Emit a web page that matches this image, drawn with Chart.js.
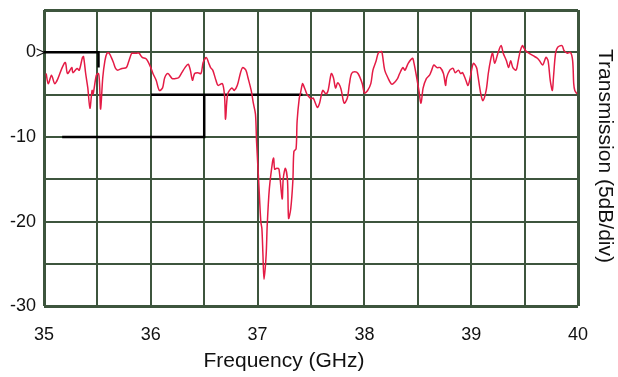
<!DOCTYPE html>
<html lang="en">
<head>
  <meta charset="UTF-8" />
  <title>Transmission vs Frequency</title>
  <script src="https://cdn.jsdelivr.net/npm/chart.js"></script>
  <style>
    body { margin: 0; background: #fff; }
    #wrap { width: 618px; height: 377px; }
  </style>
</head>
<body>
  <div id="wrap"><canvas id="myChart"></canvas></div>
  <script>
    // measured trace, frequency (GHz) and transmission (dB)
    const freqs = [
      35.02, 35.04, 35.07, 35.10, 35.13, 35.17, 35.20, 35.22, 35.26, 35.27,
      35.31, 35.33, 35.36, 35.37, 35.39, 35.41, 35.43, 35.45, 35.46, 35.49,
      35.51, 35.52, 35.53, 35.55, 35.57, 35.59, 35.61, 35.63, 35.65, 35.67,
      35.69, 35.73, 35.77, 35.79, 35.82, 35.83, 35.87, 35.89, 35.92, 35.95,
      35.97, 36.00, 36.02, 36.05, 36.08, 36.11, 36.13, 36.16, 36.20, 36.23,
      36.26, 36.29, 36.32, 36.35, 36.37, 36.39, 36.41, 36.44, 36.47, 36.49,
      36.52, 36.54, 36.56, 36.58, 36.61, 36.63, 36.67, 36.69, 36.70, 36.72,
      36.76, 36.78, 36.81, 36.84, 36.86, 36.89, 36.91, 36.94, 36.96, 36.98,
      36.99, 37.01, 37.03, 37.04, 37.05, 37.06, 37.08, 37.09, 37.11, 37.14,
      37.15, 37.16, 37.18, 37.20, 37.23, 37.24, 37.26, 37.28, 37.29, 37.31,
      37.33, 37.34, 37.36, 37.37, 37.39, 37.40, 37.42, 37.43, 37.46, 37.47,
      37.50, 37.52, 37.56, 37.58, 37.61, 37.64, 37.66, 37.69, 37.71, 37.73,
      37.75, 37.78, 37.81, 37.84, 37.86, 37.88, 37.91, 37.94, 37.98, 38.00,
      38.03, 38.06, 38.08, 38.11, 38.13, 38.16, 38.17, 38.19, 38.22, 38.25,
      38.27, 38.31, 38.33, 38.36, 38.38, 38.41, 38.45, 38.46, 38.49, 38.51,
      38.53, 38.55, 38.58, 38.61, 38.63, 38.65, 38.68, 38.71, 38.74, 38.76,
      38.77, 38.80, 38.83, 38.85, 38.88, 38.90, 38.92, 38.95, 38.97, 38.99,
      39.02, 39.05, 39.06, 39.09, 39.11, 39.14, 39.16, 39.18, 39.20, 39.22,
      39.25, 39.28, 39.30, 39.33, 39.35, 39.37, 39.39, 39.42, 39.44, 39.46,
      39.48, 39.49, 39.51, 39.54, 39.58, 39.62, 39.64, 39.67, 39.70, 39.72,
      39.74, 39.76, 39.77, 39.79, 39.81, 39.85, 39.87, 39.90, 39.93, 39.95,
      39.96, 39.97, 39.99
    ];
    const transmission = [
      -2.5, -3.7, -2.7, -3.7, -3.1, -1.8, -1.2, -2.5, -1.8, -2.4,
      -1.9, -2.1, -0.6, -0.5, -2.5, -4.2, -6.6, -4.5, -4.9, -2.7,
      -2.5, -3.7, -6.7, -3.0, -1.0, -0.1, -0.1, -0.6, -1.2, -1.9,
      -2.1, -1.9, -1.8, -1.2, -0.1, -0.1, -0.1, -0.1, -0.6, -0.7,
      -1.0, -1.8, -2.5, -3.3, -4.5, -4.2, -3.0, -2.5, -3.1, -3.1,
      -3.0, -2.4, -1.8, -1.4, -2.1, -3.3, -2.5, -2.4, -2.5, -1.2,
      -0.6, -1.2, -1.8, -2.1, -3.3, -3.9, -3.7, -5.1, -7.9, -4.9,
      -4.2, -4.5, -3.9, -2.4, -1.8, -2.1, -3.0, -4.5, -6.0, -7.3,
      -10.5, -15.2, -20.0, -20.8, -23.9, -26.8, -23.9, -20.4, -16.1, -12.9,
      -12.5, -13.8, -13.7, -13.8, -17.3, -14.9, -13.7, -15.2, -19.6, -18.5,
      -15.2, -11.7, -11.4, -8.1, -5.4, -4.9, -3.7, -3.9, -4.9, -5.1,
      -5.5, -5.4, -6.5, -6.0, -4.5, -4.9, -4.5, -2.5, -3.0, -4.2,
      -3.6, -4.3, -6.0, -5.4, -3.7, -2.5, -2.3, -2.5, -3.7, -4.8,
      -4.5, -3.7, -2.1, -1.0, -0.1, 0.1, -0.4, -2.1, -3.0, -3.7,
      -3.7, -3.1, -2.5, -1.8, -2.1, -1.3, -0.7, -1.0, -3.0, -4.5,
      -6.0, -4.2, -3.1, -2.7, -2.1, -1.5, -1.8, -1.8, -2.5, -3.9,
      -3.0, -2.1, -1.9, -2.4, -2.1, -2.5, -2.4, -3.3, -3.9, -3.0,
      -1.3, -1.8, -2.5, -4.9, -5.7, -4.5, -2.5, -1.0, -0.1, -1.3,
      -0.1, 0.8, -0.1, -1.0, -1.8, -1.0, -1.8, -2.1, -1.0, 0.2,
      0.8, 0.6, 0.2, -0.1, -0.4, -0.7, -1.0, -1.5, -0.6, -1.0,
      -3.3, -4.5, -3.0, -0.1, 0.6, 0.8, 0.2, -0.1, 0.0, -1.0,
      -3.7, -4.5, -4.9
    ];

    // black limit mask, null breaks the line
    const maskX = [35.0, 35.51, 35.51, null, 35.17, 36.5, 36.5, null, 36.0, 37.42];
    const maskY = [0, 0, -1.8, null, -10, -10, -5, null, -5, -5];

    const xLabels = [35, 36, 37, 38, 39, 40];
    const yLabels = [-30, -20, -10, 0];

    const trace = freqs.map((f, i) => ({ x: f, y: transmission[i] }));
    const mask = maskX.map((f, i) => ({ x: f === null ? 35 : f, y: maskY[i] }));

    const edgeWidth = (c) => (c.index === 0 || c.index === c.chart.scales[c.scale.id].ticks.length - 1) ? 3 : 2;
    const fontFamily = '"Liberation Sans", Arial, sans-serif';

    const extras = {
      id: 'extras',
      afterDraw(chart) {
        const { ctx, scales: { x, y } } = chart;
        ctx.save();
        ctx.fillStyle = '#111';
        ctx.font = '16px ' + fontFamily;
        ctx.textAlign = 'right';
        ctx.textBaseline = 'middle';
        ctx.fillText('>', x.left + 1, y.getPixelForValue(0) + 1);

        ctx.font = '21px ' + fontFamily;
        ctx.textAlign = 'center';
        ctx.fillText('Frequency (GHz)', 284, 361);

        ctx.translate(605, 156);
        ctx.rotate(Math.PI / 2);
        ctx.fillText('Transmission (5dB/div)', 0, 0);
        ctx.restore();
      }
    };

    new Chart(document.getElementById('myChart'), {
      type: 'line',
      data: {
        datasets: [
          {
            data: trace,
            borderColor: '#e41b45',
            borderWidth: 1.5,
            pointRadius: 0,
            tension: 0.3,
            order: 0
          },
          {
            data: mask,
            borderColor: '#000',
            borderWidth: 2.5,
            pointRadius: 0,
            spanGaps: false,
            order: 1
          }
        ]
      },
      options: {
        responsive: true,
        maintainAspectRatio: false,
        animation: false,
        layout: { padding: { left: 2, right: 40, top: 10, bottom: 13 } },
        plugins: { legend: { display: false }, tooltip: { enabled: false } },
        scales: {
          x: {
            type: 'linear',
            min: 35,
            max: 40,
            ticks: {
              stepSize: 0.5,
              padding: 18,
              color: '#111',
              font: { size: 18, family: fontFamily },
              maxRotation: 0,
              autoSkip: false,
              callback: (v) => xLabels.includes(v) ? String(v) : ''
            },
            grid: { color: '#3d553d', lineWidth: edgeWidth, drawTicks: false },
            border: { display: false }
          },
          y: {
            min: -30,
            max: 5,
            afterFit: (scale) => { scale.paddingTop = 0; scale.paddingBottom = 0; },
            ticks: {
              stepSize: 5,
              padding: 8,
              color: '#111',
              font: { size: 18, family: fontFamily },
              callback: (v) => yLabels.includes(v) ? String(v) : ''
            },
            grid: { color: '#3d553d', lineWidth: edgeWidth, drawTicks: false },
            border: { display: false }
          }
        }
      },
      plugins: [extras]
    });
  </script>
</body>
</html>
